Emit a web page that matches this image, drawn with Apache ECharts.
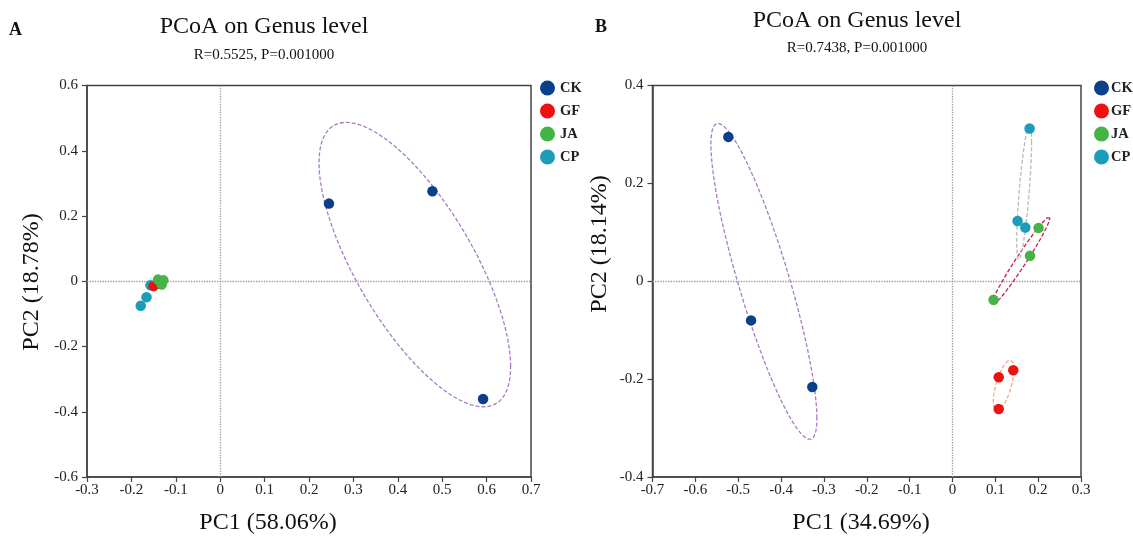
<!DOCTYPE html>
<html>
<head>
<meta charset="utf-8">
<script src="https://cdn.jsdelivr.net/npm/echarts@6/dist/echarts.min.js"></script>
<style>html,body{margin:0;padding:0;background:#fff;}#c{width:1133px;height:541px;}</style>
</head>
<body>
<div id="c"></div>
<script>
// ---- data ----
const groups = ['CK', 'GF', 'JA', 'CP'];
// Panel A (PC1 58.06%, PC2 18.78%)
const A_CK = [[0.245, 0.238], [0.478, 0.276], [0.592, -0.361]];
const A_GF = [[-0.150, -0.015], [-0.140, -0.008], [-0.136, 0.000]];
const A_JA = [[-0.140, 0.005], [-0.128, 0.003], [-0.132, -0.010]];
const A_CP = [[-0.157, -0.012], [-0.166, -0.049], [-0.179, -0.075]];
// Panel B (PC1 34.69%, PC2 18.14%)
const B_CK = [[-0.523, 0.295], [-0.470, -0.080], [-0.327, -0.216]];
const B_GF = [[0.142, -0.182], [0.108, -0.196], [0.108, -0.261]];
const B_JA = [[0.201, 0.109], [0.181, 0.052], [0.096, -0.038]];
const B_CP = [[0.180, 0.312], [0.152, 0.123], [0.170, 0.110]];

const titleText = 'PCoA on Genus level';
const statA = 'R=0.5525, P=0.001000';
const statB = 'R=0.7438, P=0.001000';
const xNameA = 'PC1 (58.06%)', yNameA = 'PC2 (18.78%)';
const xNameB = 'PC1 (34.69%)', yNameB = 'PC2 (18.14%)';

// ---- styles ----
const pointColors = {CK: '#0b3f8c', GF: '#ee1111', JA: '#45b345', CP: '#1c9cb8'};
const ellipseColors = {CK: '#a77cc6', GF: '#f7a586', JA: '#c2204f', CP: '#b3bcbc'};
const SERIF = '"Liberation Serif", "Times New Roman", serif';
const K = 1.22;

function confEllipse(pts, k, n) {
  const m = pts.length;
  let mx = 0, my = 0;
  pts.forEach(p => { mx += p[0]; my += p[1]; });
  mx /= m; my /= m;
  let sxx = 0, syy = 0, sxy = 0;
  pts.forEach(p => { const dx = p[0] - mx, dy = p[1] - my; sxx += dx * dx; syy += dy * dy; sxy += dx * dy; });
  sxx /= (m - 1); syy /= (m - 1); sxy /= (m - 1);
  const l11 = Math.sqrt(sxx), l21 = sxy / l11, l22 = Math.sqrt(Math.max(syy - l21 * l21, 0));
  const out = [];
  for (let i = 0; i <= n; i++) {
    const t = 2 * Math.PI * i / n;
    const c = Math.cos(t), s = Math.sin(t);
    out.push([mx + k * l11 * c, my + k * (l21 * c + l22 * s)]);
  }
  return out;
}

const panelData = [
  {CK: A_CK, GF: A_GF, JA: A_JA, CP: A_CP, ellipses: ['CK']},
  {CK: B_CK, GF: B_GF, JA: B_JA, CP: B_CP, ellipses: ['CK', 'GF', 'JA', 'CP']}
];
const zOrder = {CK: 5, GF: 4, JA: 6, CP: 3};

const series = [];
panelData.forEach((pd, pi) => {
  pd.ellipses.forEach(g => {
    series.push({
      type: 'line', name: g + '_ell' + pi, xAxisIndex: pi, yAxisIndex: pi,
      data: confEllipse(pd[g], K, 120), showSymbol: false, symbol: 'none', silent: true,
      lineStyle: {color: ellipseColors[g], width: 1.3, type: [4, 2]}, z: 2
    });
  });
  groups.forEach(g => {
    const s = {
      type: 'scatter', name: g, xAxisIndex: pi, yAxisIndex: pi, data: pd[g],
      symbol: 'circle', symbolSize: 10.5, itemStyle: {color: pointColors[g], opacity: 1}, z: zOrder[g]
    };
    if (g === 'CK') {
      s.markLine = {
        silent: true, symbol: ['none', 'none'], label: {show: false},
        lineStyle: {type: 'dotted', color: '#999', width: 1.3},
        data: [{xAxis: 0}, {yAxis: 0}], z: 1
      };
    }
    series.push(s);
  });
});

const axisLbl = {fontFamily: SERIF, fontSize: 15, color: '#222'};
function xAx(idx, mn, mx) {
  return {type: 'value', gridIndex: idx, min: mn, max: mx, interval: 0.1,
    axisLine: {show: true, onZero: false, lineStyle: {color: '#444', width: 1.5}},
    axisTick: {show: true, length: 5, lineStyle: {color: '#444', width: 1.2}},
    axisLabel: Object.assign({margin: 6}, axisLbl), splitLine: {show: false}};
}
function yAx(idx, mn, mx) {
  return {type: 'value', gridIndex: idx, min: mn, max: mx, interval: 0.2,
    axisLine: {show: true, onZero: false, lineStyle: {color: '#444', width: 1.5}},
    axisTick: {show: true, length: 5, lineStyle: {color: '#444', width: 1.2}},
    axisLabel: Object.assign({margin: 9}, axisLbl), splitLine: {show: false}};
}

function txt(x, y, text, font, rot) {
  return {type: 'text', x: x, y: y, rotation: rot || 0, silent: true,
    style: {text: text, font: font, fill: '#111', align: 'center', verticalAlign: 'middle', textAlign: 'center', textVerticalAlign: 'middle'}};
}

function legendAt(left, textPad) {
  return {left: left, top: 80.5, orient: 'vertical', icon: 'circle', itemWidth: 15, itemHeight: 15, itemGap: 8, padding: 0,
    itemStyle: {borderWidth: 0}, data: groups, selectedMode: false,
    textStyle: {fontFamily: SERIF, fontSize: 14.5, fontWeight: 'bold', color: '#222', padding: [0, 0, 0, textPad]}};
}

const option = {
  animation: false,
  backgroundColor: '#fff',
  grid: [
    {left: 87, top: 85.5, width: 444, height: 391.5, show: true, borderColor: '#444', borderWidth: 1.5, backgroundColor: 'transparent'},
    {left: 652.5, top: 85.5, width: 428.5, height: 391.5, show: true, borderColor: '#444', borderWidth: 1.5, backgroundColor: 'transparent'}
  ],
  xAxis: [xAx(0, -0.3, 0.7), xAx(1, -0.7, 0.3)],
  yAxis: [yAx(0, -0.6, 0.6), yAx(1, -0.4, 0.4)],
  legend: [legendAt(540, 0), legendAt(1094, -3)],
  graphic: [
    txt(15.5, 30, 'A', 'bold 18px ' + SERIF),
    txt(601, 27, 'B', 'bold 18px ' + SERIF),
    txt(264, 27, titleText, '24px ' + SERIF),
    txt(264, 55, statA, '15px ' + SERIF),
    txt(857, 21, titleText, '24px ' + SERIF),
    txt(857, 48, statB, '15px ' + SERIF),
    txt(268, 523, xNameA, '24px ' + SERIF),
    txt(861, 523, xNameB, '24px ' + SERIF),
    txt(32, 282, yNameA, '24px ' + SERIF, Math.PI / 2),
    txt(600, 244, yNameB, '24px ' + SERIF, Math.PI / 2)
  ],
  series: series
};

const chart = echarts.init(document.getElementById('c'), null, {renderer: 'canvas'});
chart.setOption(option);
</script>
</body>
</html>
